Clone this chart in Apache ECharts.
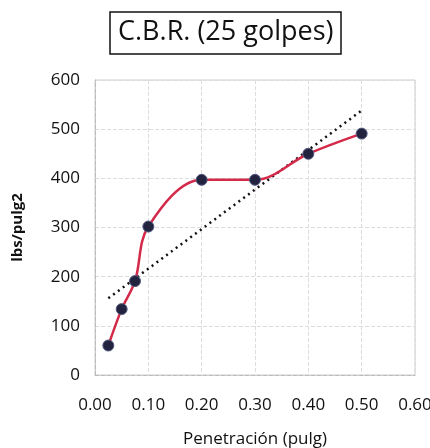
<!DOCTYPE html>
<html><head><meta charset="utf-8">
<script src="https://cdn.jsdelivr.net/npm/echarts@6/dist/echarts.min.js"></script>
<style>html,body{margin:0;padding:0;background:#fff}#c{width:430px;height:448px}</style>
</head><body><div id="c"></div>
<script>
const penetration = [0.025, 0.05, 0.075, 0.1, 0.2, 0.3, 0.4, 0.5];
const load = [60, 134, 191, 302, 397, 397, 450, 491];
const trendX = [0.025, 0.5];
const trendY = [156, 538];
const xTicks = ['0.00','0.10','0.20','0.30','0.40','0.50','0.60'];
const yTicks = [0, 100, 200, 300, 400, 500, 600];

const font = '"Open Sans", "Noto Sans", sans-serif';
const chart = echarts.init(document.getElementById('c'), null, {renderer: 'canvas'});
chart.setOption({
  backgroundColor: '#fff',
  animation: false,
  title: {
    text: 'C.B.R. (25 golpes)',
    left: 110, top: 12,
    padding: [7, 8, 8, 8],
    borderColor: '#111', borderWidth: 1.5,
    textStyle: {fontFamily: font, fontSize: 27, fontWeight: 'normal', color: '#111'}
  },
  grid: {left: 95, right: 15, top: 80, bottom: 73, outerBoundsMode: 'none', containLabel: false,
    show: true, borderColor: '#ccc', borderWidth: 1},
  xAxis: {
    type: 'value', min: 0, max: 0.6, interval: 0.1,
    name: 'Penetración (pulg)', nameLocation: 'middle', nameGap: 56,
    nameTextStyle: {fontFamily: font, fontSize: 17, color: '#111'},
    axisLine: {show: true, lineStyle: {color: '#bbb', type: 'dashed'}},
    axisTick: {show: false},
    splitLine: {show: true, lineStyle: {color: '#ddd', type: 'dashed'}},
    axisLabel: {fontFamily: font, fontSize: 17, color: '#111', margin: 22,
      formatter: v => xTicks[Math.round(v * 10)] || v.toFixed(2)}
  },
  yAxis: {
    type: 'value', min: yTicks[0], max: yTicks[yTicks.length - 1], interval: 100,
    name: 'lbs/pulg2', nameLocation: 'middle', nameGap: 70, nameRotate: 90,
    nameTextStyle: {fontFamily: font, fontSize: 15, fontWeight: 'bold', color: '#111'},
    axisLine: {show: true, lineStyle: {color: '#bbb', type: 'dashed'}},
    axisTick: {show: false},
    splitLine: {show: true, lineStyle: {color: '#ddd', type: 'dashed'}},
    axisLabel: {fontFamily: font, fontSize: 17, color: '#111', margin: 15}
  },
  series: [
    {
      type: 'line',
      data: trendX.map((x, i) => [x, trendY[i]]),
      symbol: 'none',
      lineStyle: {color: '#111', width: 2.5, type: [2, 4]},
      z: 1
    },
    {
      type: 'line',
      data: penetration.map((x, i) => [x, load[i]]),
      smooth: 0.35,
      symbol: 'circle', symbolSize: 11,
      itemStyle: {color: '#22243f', borderColor: '#555a80', borderWidth: 1},
      lineStyle: {color: '#d42a4a', width: 2.5},
      z: 2
    }
  ]
});
</script></body></html>
